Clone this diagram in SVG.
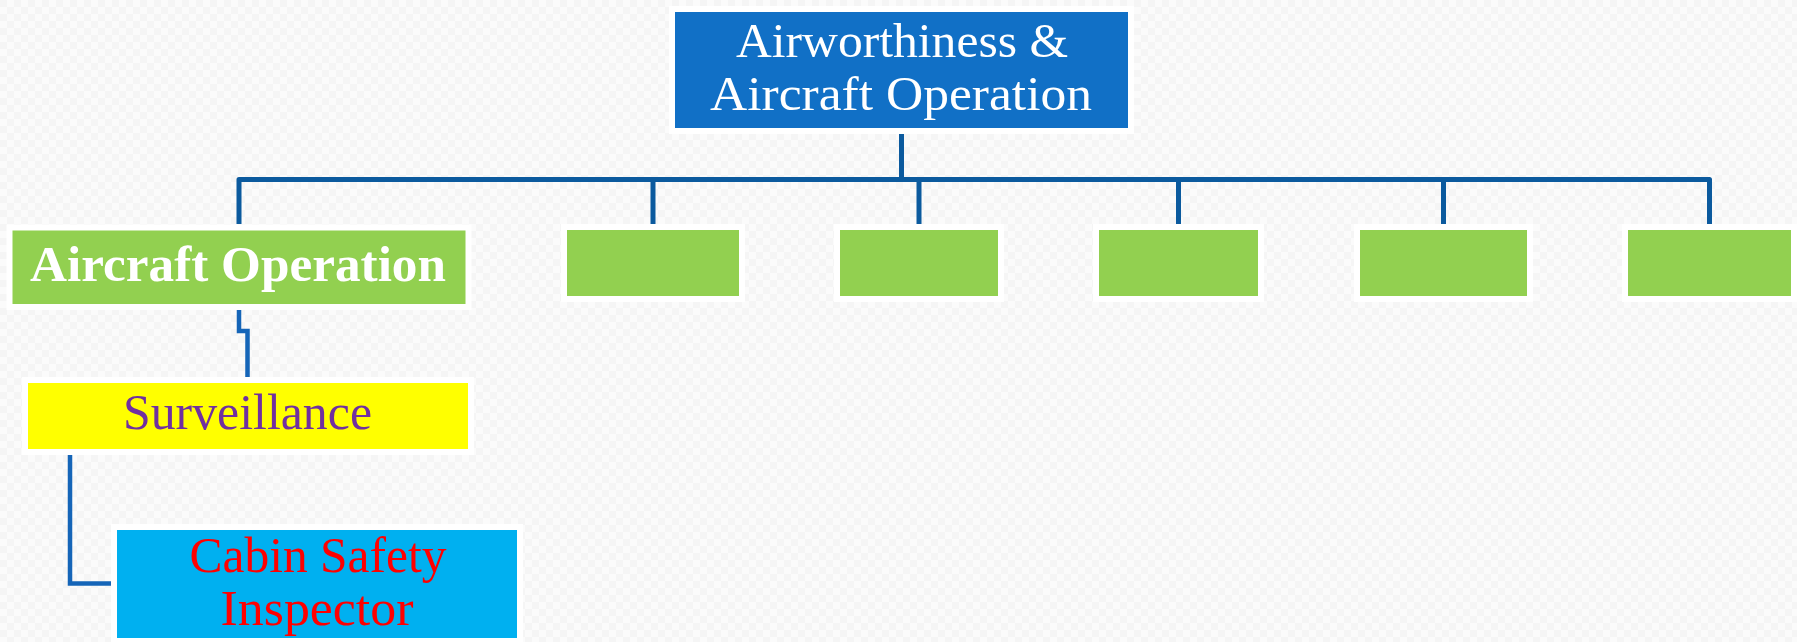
<svg xmlns="http://www.w3.org/2000/svg" width="1797" height="642" viewBox="0 0 1797 642">
<defs>
<pattern id="bg" width="14" height="14" patternUnits="userSpaceOnUse">
<rect width="14" height="14" fill="#fbfbfb"/>
<rect width="7" height="7" fill="#f5f5f5"/>
<rect x="7" y="7" width="7" height="7" fill="#f5f5f5"/>
</pattern>
</defs>
<style>
.box{stroke:#ffffff;stroke-width:12;paint-order:stroke;}
.t{font-family:"Liberation Serif","Times New Roman",serif;text-anchor:middle;}
.c1{fill:none;stroke:#0b5a9e;stroke-width:5;stroke-linejoin:round;}
.c2{fill:none;stroke:#1565b8;stroke-width:4.5;stroke-linejoin:miter;}
</style>
<rect width="1797" height="642" fill="url(#bg)"/>
<g id="connectors">
<path class="c1" d="M901.5 134 V179.5"/>
<path class="c1" d="M239 224 V179.5 H1709.5 V224"/>
<path class="c1" d="M653 179.5 V224"/>
<path class="c1" d="M919 179.5 V224"/>
<path class="c1" d="M1178.5 179.5 V224"/>
<path class="c1" d="M1443.5 179.5 V224"/>
<path class="c2" d="M239 310 V331 H247.5 V377"/>
<path class="c2" d="M70 455 V583.5 H111"/>
</g>
<g id="root">
<rect class="box" x="675" y="12" width="453" height="116" fill="#1170c6"/>
<text class="t" x="902" y="57" font-size="48" fill="#ffffff" textLength="332" lengthAdjust="spacingAndGlyphs">Airworthiness &amp;</text>
<text class="t" x="901" y="110" font-size="48" fill="#ffffff" textLength="382" lengthAdjust="spacingAndGlyphs">Aircraft Operation</text>
</g>
<g id="aircraft-operation">
<rect class="box" x="12.5" y="230.5" width="453" height="73.5" fill="#92d050"/>
<text class="t" x="238" y="281" font-size="50" font-weight="bold" fill="#ffffff" textLength="416" lengthAdjust="spacingAndGlyphs">Aircraft Operation</text>
</g>
<g id="box2"><rect class="box" x="567" y="230" width="172" height="66" fill="#92d050"/></g>
<g id="box3"><rect class="box" x="840" y="230" width="158" height="66" fill="#92d050"/></g>
<g id="box4"><rect class="box" x="1099" y="230" width="159" height="66" fill="#92d050"/></g>
<g id="box5"><rect class="box" x="1360" y="230" width="167" height="66" fill="#92d050"/></g>
<g id="box6"><rect class="box" x="1628" y="230" width="163" height="66" fill="#92d050"/></g>
<g id="surveillance">
<rect class="box" x="28" y="383" width="440" height="66" fill="#ffff00"/>
<text class="t" x="247.5" y="429" font-size="50" fill="#7030a0" textLength="249" lengthAdjust="spacingAndGlyphs">Surveillance</text>
</g>
<g id="cabin-safety-inspector">
<rect class="box" x="117" y="530" width="400" height="108" fill="#00b0f0"/>
<text class="t" x="318" y="572" font-size="50" fill="#ff0000" textLength="257" lengthAdjust="spacingAndGlyphs">Cabin Safety</text>
<text class="t" x="317" y="625" font-size="50" fill="#ff0000" textLength="193" lengthAdjust="spacingAndGlyphs">Inspector</text>
</g>
</svg>
